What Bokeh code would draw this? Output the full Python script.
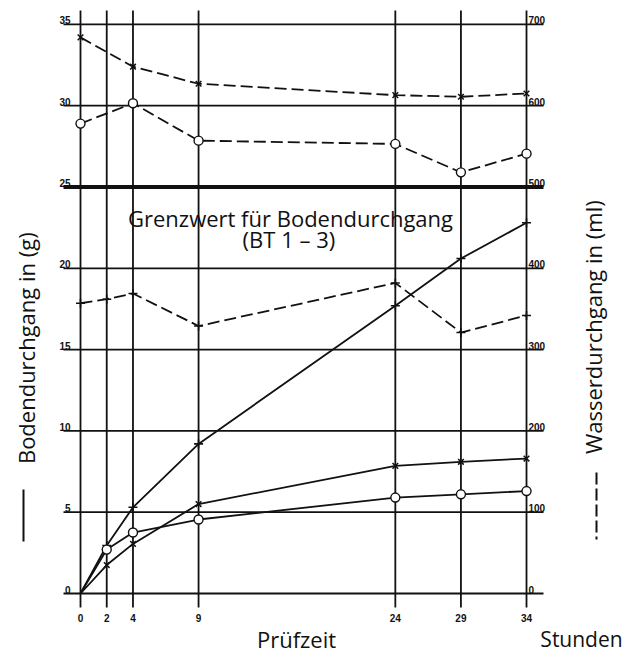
import numpy as np
from bokeh.plotting import figure
from bokeh.models import Range1d, Label
from bokeh.core.properties import value
from bokeh.embed import file_html
from bokeh.resources import INLINE

# ---------------- data ----------------
hours = [0, 2, 4, 9, 24, 29, 34]
hour_labels = ["0", "2", "4", "9", "24", "29", "34"]

g_ticks = [0, 5, 10, 15, 20, 25, 30, 35]
g_tick_labels = ["0", "5", "10", "15", "20", "25", "30", "35"]
ml_ticks = [0, 100, 200, 300, 400, 500, 600, 700]
ml_tick_labels = ["0", "100", "200", "300", "400", "500", "600", "700"]

# Bodendurchgang (g) – solid lines
boden_plus = [0, 2.95, 5.3, 9.2, 17.7, 20.6, 22.8]
boden_cross = [0, 1.75, 3.05, 5.5, 7.85, 8.1, 8.3]
boden_circle = [0, 2.7, 3.75, 4.55, 5.9, 6.1, 6.3]

# Wasserdurchgang (ml) – dashed lines
wasser_hours = [0, 4, 9, 24, 29, 34]
wasser_cross = [684, 648, 627, 613, 611, 615]
wasser_circle = [578, 603, 557, 553, 518, 541]
wasser_plus = [357, 362, 369, 329, 382, 321, 342]

grenzwert = 25

# ---------------- layout helpers (picture pixel -> data) ----------------
X0, XS = 80.0, 13.118
Y0, YS = 593.0, 16.26
ML_PER_G = 20.0
OX, OY = 0, 0  # where the canvas lands in the picture


def hx(px):
    return (px - X0) / XS


def gy(py):
    return (Y0 - py) / YS


W, H = 626, 652
p = figure(width=W, height=H, output_backend="svg", toolbar_location=None,
           x_range=Range1d(hx(OX), hx(OX + W)), y_range=Range1d(gy(OY + H), gy(OY)),
           x_axis_location=None, y_axis_location=None, min_border=0)
p.extra_y_ranges = {"ml": Range1d(gy(OY + H) * ML_PER_G, gy(OY) * ML_PER_G)}
p.outline_line_color = None
p.grid.visible = False
p.background_fill_color = "white"
p.border_fill_color = "white"

INK = "#111111"
TFONT = value("Liberation Sans")

# horizontal grid lines
gl_left, gl_right = hx(63), hx(543)
for t in g_ticks:
    lw = 4 if t == grenzwert else 1.8
    p.segment(x0=[gl_left], y0=[t], x1=[gl_right], y1=[t], line_color=INK, line_width=lw)

# vertical lines at measuring times
v_bottom, v_top = gy(607), gy(10)
p.segment(x0=hours, y0=[v_bottom] * len(hours), x1=hours, y1=[v_top] * len(hours),
          line_color=INK, line_width=1.8)

# tick labels
p.text(x=[hx(70)] * len(g_ticks), y=g_ticks, text=g_tick_labels, text_font=TFONT,
       text_font_size="10px", text_font_style="bold", text_align="right",
       text_baseline="alphabetic", y_offset=-4, text_color=INK)
p.text(x=[hx(528)] * len(ml_ticks), y=ml_ticks, text=ml_tick_labels, y_range_name="ml",
       text_font=TFONT, text_font_size="10px", text_font_style="bold", text_align="left",
       text_baseline="alphabetic", y_offset=-4, text_color=INK)
p.text(x=hours, y=[gy(617)] * len(hours), text=hour_labels, text_font=TFONT,
       text_font_size="10px", text_font_style="bold", text_align="center",
       text_baseline="alphabetic", text_color=INK)

DASH = "12 5"
# dashed water series (right scale)
p.line(wasser_hours, wasser_cross, y_range_name="ml", line_color=INK, line_width=1.8, line_dash=DASH)
p.line(wasser_hours, wasser_circle, y_range_name="ml", line_color=INK, line_width=1.8, line_dash=DASH)
p.line(hours, wasser_plus, y_range_name="ml", line_color=INK, line_width=1.8, line_dash=DASH)

# solid soil series (left scale)
p.line(hours, boden_plus, line_color=INK, line_width=1.8)
p.line(hours, boden_cross, line_color=INK, line_width=1.8)
p.line(hours, boden_circle, line_color=INK, line_width=1.8)

# markers
p.scatter(wasser_hours, wasser_cross, y_range_name="ml", marker="x", size=8,
          line_color=INK, line_width=1.5)
p.scatter(wasser_hours, wasser_circle, y_range_name="ml", marker="circle", size=9,
          fill_color="white", line_color=INK, line_width=1.4)
p.scatter(hours, wasser_plus, y_range_name="ml", marker="cross", size=9,
          line_color=INK, line_width=1.6)
p.scatter(hours[1:], boden_plus[1:], marker="cross", size=9, line_color=INK, line_width=1.6)
p.scatter(hours[1:], boden_cross[1:], marker="x", size=8, line_color=INK, line_width=1.5)
p.scatter(hours[1:], boden_circle[1:], marker="circle", size=9, fill_color="white",
          line_color=INK, line_width=1.4)

# annotation of the limit value
p.add_layout(Label(x=hx(290), y=gy(217), text="Grenzwert für Bodendurchgang",
                   text_font="Open Sans", text_font_size="22px", text_align="center",
                   text_baseline="alphabetic", text_color=INK))
p.add_layout(Label(x=hx(297), y=gy(238), text="(BT  1  –  3)",
                   text_font="Open Sans", text_font_size="22px", text_align="center",
                   text_baseline="alphabetic", text_color=INK))

# axis titles
p.add_layout(Label(x=hx(25), y=gy(342), text="Bodendurchgang  in  (g)", angle=np.pi / 2,
                   text_font="Open Sans", text_font_size="22px", text_align="center",
                   text_baseline="middle", text_color=INK))
p.segment(x0=[hx(23)], y0=[gy(489)], x1=[hx(23)], y1=[gy(541)], line_color=INK, line_width=2)

p.add_layout(Label(x=hx(592), y=gy(321), text="Wasserdurchgang  in  (ml)", angle=np.pi / 2,
                   text_font="Open Sans", text_font_size="22px", text_align="center",
                   text_baseline="middle", text_color=INK))
p.segment(x0=[hx(596)], y0=[gy(472)], x1=[hx(596)], y1=[gy(539)], line_color=INK,
          line_width=2, line_dash="12 4")

p.add_layout(Label(x=hx(296), y=gy(638), text="Prüfzeit", text_font="Open Sans",
                   text_font_size="22px", text_align="center", text_baseline="alphabetic",
                   text_color=INK))
p.add_layout(Label(x=hx(581), y=gy(638), text="Stunden", text_font="Open Sans",
                   text_font_size="21px", text_align="center", text_baseline="alphabetic",
                   text_color=INK))

open("out.html", "w").write(file_html(p, INLINE))
